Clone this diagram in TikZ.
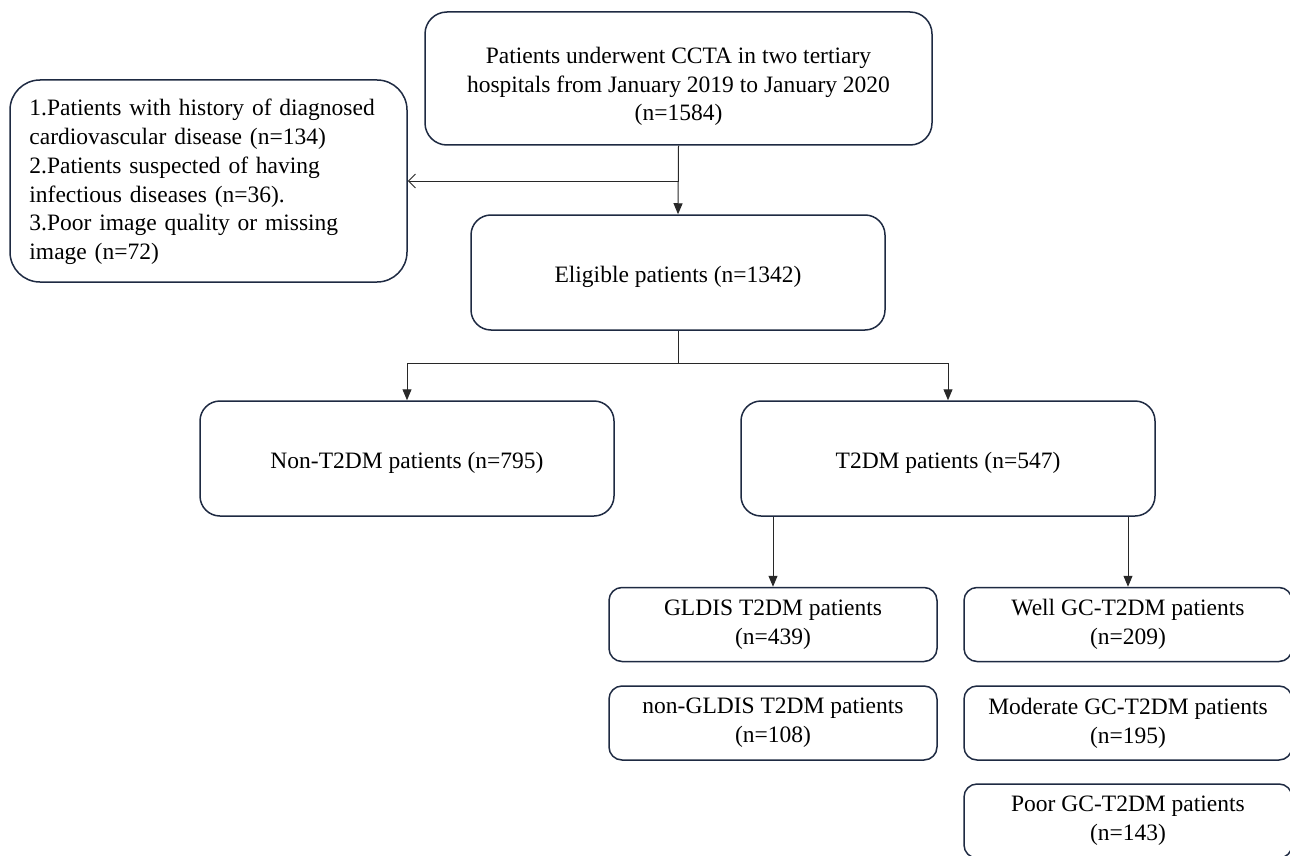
\documentclass[tikz,border=0pt]{standalone}
\usepackage{fontspec}
\setmainfont{Liberation Serif}
\usetikzlibrary{arrows.meta}
\definecolor{boxline}{RGB}{30,42,66}
\definecolor{arrline}{RGB}{40,40,40}
\tikzset{
  txt/.style={align=center, inner sep=0pt, font=\fontsize{23.5}{28.7}\selectfont},
  bigbox/.style={draw=boxline, line width=1.5pt, rounded corners=20pt, inner sep=0pt,
    minimum width=414pt, minimum height=115pt},
  smallbox/.style={draw=boxline, line width=1.5pt, rounded corners=13pt, txt,
    minimum width=328pt, minimum height=74pt},
  arr/.style={draw=arrline, line width=1pt, -{Triangle[length=11pt,width=9pt]}},
  openarr/.style={draw=arrline, line width=1pt, -{Straight Barb[length=7pt,width=14pt]}},
  plain/.style={draw=arrline, line width=1pt}
}
\begin{document}
\begin{tikzpicture}[x=1pt,y=-1pt]
\clip (0,0) rectangle (1290,856);
\fill[white] (0,0) rectangle (1290,856);

\node[bigbox, rounded corners=22pt, minimum width=507pt, minimum height=133pt] (top) at (678.5,78.5) {};
\node[txt] (toptxt) at ([yshift=-8pt]top.center)
  {Patients underwent CCTA in two tertiary\\hospitals from January 2019 to January 2020\\(n=1584)};
\node[bigbox, rounded corners=30pt, minimum width=397pt, minimum height=202pt] (excl) at (208.5,181) {};
\node[txt, text width=360pt, align=left, anchor=west] (excltxt) at ([xshift=20pt,yshift=-1pt]excl.west)
  {1.Patients with history of diagnosed\\cardiovascular disease (n=134)\\2.Patients suspected of having\\infectious diseases (n=36).\\3.Poor image quality or missing\\image (n=72)};
\node[bigbox] (elig) at (678,272.5) {};
\node[txt] (eligtxt) at ([yshift=-4pt]elig.center) {Eligible patients (n=1342)};
\node[bigbox] (nont) at (407,458.5) {};
\node[txt] (nonttxt) at ([yshift=-4pt]nont.center) {Non-T2DM patients (n=795)};
\node[bigbox] (t2dm) at (948,458.5) {};
\node[txt] (t2dmtxt) at ([yshift=-4pt]t2dm.center) {T2DM patients (n=547)};
\node[smallbox] (gldis) at (773,624.5) {GLDIS T2DM patients\\(n=439)};
\node[smallbox] (ngldis) at (773,723) {non-GLDIS T2DM patients\\(n=108)};
\node[smallbox] (well) at (1128,624.5) {Well GC-T2DM patients\\(n=209)};
\node[smallbox] (mod) at (1128,723) {Moderate GC-T2DM patients\\(n=195)};
\node[smallbox] (poor) at (1128,821) {Poor GC-T2DM patients\\(n=143)};

\coordinate (b1) at (top.south |- excl.east);
\draw[arr] (top.south) -- (elig.north);
\draw[openarr] (b1) -- (excl.east);

\coordinate (b2) at ([yshift=-33pt]elig.south);
\draw[plain] (elig.south) -- (b2);
\draw[arr] (b2) -| (nont.north);
\draw[arr] (b2) -| (t2dm.north);

\draw[arr] (t2dm.south -| gldis.north) -- (gldis.north);
\draw[arr] (t2dm.south -| well.north) -- (well.north);
\end{tikzpicture}
\end{document}
